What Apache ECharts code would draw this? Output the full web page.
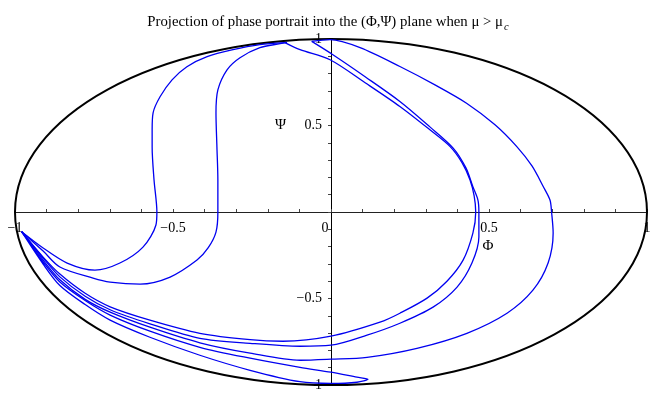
<!DOCTYPE html>
<html>
<head>
<meta charset="utf-8">
<script src="https://cdn.jsdelivr.net/npm/echarts@6/dist/echarts.min.js"></script>
<style>
  html, body { margin: 0; padding: 0; background: #fff; }
  #chart { width: 656px; height: 400px; }
</style>
</head>
<body>
<div id="chart"></div>
<script>
// start point where every trajectory ends up
const S = [-0.979, -0.114];

// trajectories as (Phi, Psi) pairs
const leftLoopInner = [
  [-0.146, 0.979], [-0.225, 0.967], [-0.310, 0.938], [-0.392, 0.898], [-0.456, 0.840],
  [-0.503, 0.764], [-0.541, 0.666], [-0.563, 0.573], [-0.566, 0.475], [-0.566, 0.376],
  [-0.560, 0.185], [-0.551, 0.000], [-0.554, -0.075], [-0.595, -0.203], [-0.668, -0.295],
  [-0.747, -0.336], [-0.835, -0.295], [-0.911, -0.208], S
];
const leftLoopOuter = [
  [-0.139, 0.981], [-0.161, 0.973], [-0.225, 0.950], [-0.288, 0.892], [-0.329, 0.822],
  [-0.358, 0.706], [-0.364, 0.573], [-0.361, 0.376], [-0.358, 0.185], [-0.358, 0.000],
  [-0.364, -0.116], [-0.389, -0.208], [-0.424, -0.278], [-0.509, -0.376], [-0.604, -0.417],
  [-0.699, -0.405], [-0.753, -0.382], [-0.858, -0.318], [-0.911, -0.226], S
];
const innerPathA = [
  [-0.146, 0.979], [-0.098, 0.938], [-0.003, 0.880], [0.108, 0.747], [0.218, 0.610],
  [0.313, 0.475], [0.377, 0.378], [0.415, 0.284], [0.440, 0.185], [0.453, 0.093],
  [0.458, 0.000], [0.449, -0.122], [0.418, -0.278], [0.367, -0.400], [0.304, -0.498],
  [0.218, -0.585], [0.155, -0.637], [0.000, -0.718], [-0.152, -0.747], [-0.256, -0.738],
  [-0.415, -0.701], [-0.573, -0.625], [-0.699, -0.548], [-0.778, -0.470], [-0.858, -0.359],
  [-0.911, -0.261], S
];
const innerPathB = [
  [-0.061, 0.986], [0.006, 0.909], [0.108, 0.782], [0.218, 0.639], [0.313, 0.492],
  [0.386, 0.371], [0.427, 0.255], [0.449, 0.146], [0.465, 0.069], [0.468, 0.000],
  [0.468, -0.145], [0.446, -0.295], [0.399, -0.434], [0.323, -0.550], [0.218, -0.643],
  [0.114, -0.712], [0.000, -0.770], [-0.098, -0.776], [-0.256, -0.759], [-0.415, -0.730],
  [-0.573, -0.646], [-0.699, -0.565], [-0.778, -0.487], [-0.858, -0.375], [-0.911, -0.266], S
];
const outerPath = [
  [-0.061, 0.986], [-0.003, 0.996], [0.092, 0.950], [0.218, 0.841], [0.329, 0.735],
  [0.429, 0.629], [0.519, 0.504], [0.588, 0.378], [0.636, 0.266], [0.672, 0.146],
  [0.693, 0.069], [0.698, 0.000], [0.703, -0.122], [0.687, -0.295], [0.639, -0.452],
  [0.557, -0.585], [0.430, -0.701], [0.272, -0.788], [0.114, -0.840], [0.000, -0.851],
  [-0.098, -0.857], [-0.256, -0.816], [-0.415, -0.756], [-0.573, -0.666], [-0.699, -0.579],
  [-0.778, -0.505], [-0.858, -0.392], [-0.911, -0.278], S
];
const bottomHairpin = [
  S, [-0.911, -0.289], [-0.858, -0.405], [-0.778, -0.512], [-0.699, -0.596], [-0.573, -0.689],
  [-0.415, -0.782], [-0.256, -0.845], [-0.098, -0.898], [0.000, -0.926], [0.082, -0.955],
  [0.117, -0.967], [0.082, -0.984], [0.000, -0.991], [-0.098, -0.981], [-0.256, -0.915],
  [-0.415, -0.828], [-0.573, -0.724], [-0.699, -0.625], [-0.778, -0.535], [-0.858, -0.425],
  [-0.911, -0.301], S
];
const curves = [leftLoopInner, leftLoopOuter, innerPathA, innerPathB, outerPath, bottomHairpin];

const xTickLabels = [-1, -0.5, 0, 0.5, 1];
const yTickLabels = [-1, -0.5, 0.5, 1];

const serif = 'Liberation Serif';
const fmt = v => (v < 0 ? '\u2212' + Math.abs(v) : String(v));

const W = 656, H = 400;
const gridBox = { left: 15, right: 9, top: 39, bottom: 15 };
// axes cross at the origin, which sits in the middle of the grid
const xShift = -(H - gridBox.top - gridBox.bottom) / 2;
const yShift = -(W - gridBox.left - gridBox.right) / 2;

const chart = echarts.init(document.getElementById('chart'));

const option = {
  animation: false,
  title: {
    text: '{t|Projection of phase portrait into the (\u03a6,\u03a8) plane when \u03bc > \u03bc}{s|c}',
    left: 'center',
    top: 6,
    textStyle: {
      fontWeight: 'normal',
      rich: {
        t: { fontFamily: serif, fontSize: 14.8, fontWeight: 'normal', color: '#000' },
        s: { fontFamily: serif, fontSize: 10.5, fontWeight: 'normal', fontStyle: 'italic', color: '#000', padding: [11, 0, 0, 1] }
      }
    }
  },
  grid: Object.assign({ outerBoundsMode: 'none' }, gridBox),
  xAxis: {
    type: 'value',
    position: 'bottom',
    offset: xShift,
    min: -1,
    max: 1,
    interval: 0.5,
    axisLine: { onZero: false, lineStyle: { color: '#222', width: 1 } },
    axisTick: { inside: true, length: 3, lineStyle: { color: '#444' } },
    minorTick: { show: true, splitNumber: 5, length: 3, lineStyle: { color: '#444' } },
    splitLine: { show: false },
    axisLabel: {
      margin: 9,
      color: '#000',
      fontFamily: serif,
      fontSize: 14,
      showMinLabel: true,
      showMaxLabel: true,
      formatter: v => {
        if (!xTickLabels.some(t => Math.abs(t - v) < 1e-9)) return '';
        if (Math.abs(v) < 1e-9) return '{z|0}';
        return fmt(v);
      },
      rich: { z: { fontFamily: serif, fontSize: 14, color: '#000', padding: [0, 12, 0, 0] } }
    }
  },
  yAxis: {
    type: 'value',
    position: 'left',
    offset: yShift,
    min: -1,
    max: 1,
    interval: 0.5,
    axisLine: { show: true, onZero: false, lineStyle: { color: '#000', width: 1 } },
    axisTick: { show: true, length: 3, lineStyle: { color: '#444' } },
    minorTick: { show: true, splitNumber: 5, length: 3, lineStyle: { color: '#444' } },
    splitLine: { show: false },
    axisLabel: {
      margin: 9,
      color: '#000',
      fontFamily: serif,
      fontSize: 14,
      showMinLabel: true,
      showMaxLabel: true,
      formatter: v => (yTickLabels.some(t => Math.abs(t - v) < 1e-9) ? fmt(v) : '')
    }
  },
  series: curves.map(pts => ({
    type: 'line',
    data: pts,
    showSymbol: false,
    symbol: 'none',
    smooth: 0.3,
    clip: false,
    lineStyle: { color: '#0000f0', width: 1.3 },
    z: 3
  }))
};

chart.setOption(option);

// boundary ellipse (unit circle in data space) and the axis names
const c0 = chart.convertToPixel('grid', [0, 0]);
const c1 = chart.convertToPixel('grid', [1, 1]);
const psiPos = chart.convertToPixel('grid', [-0.16, 0.5]);
const phiPos = chart.convertToPixel('grid', [0.497, -0.197]);
chart.setOption({
  graphic: [
    {
      type: 'ellipse',
      shape: { cx: c0[0], cy: c0[1], rx: c1[0] - c0[0], ry: c0[1] - c1[1] },
      style: { fill: 'none', stroke: '#000', lineWidth: 2 },
      z: 2
    },
    {
      type: 'text',
      x: psiPos[0], y: psiPos[1],
      style: { text: '\u03a8', font: '15px "Liberation Serif"', fill: '#000', align: 'center', verticalAlign: 'middle' }
    },
    {
      type: 'text',
      x: phiPos[0], y: phiPos[1],
      style: { text: '\u03a6', font: '15px "Liberation Serif"', fill: '#000', align: 'center', verticalAlign: 'middle' }
    }
  ]
});
</script>
</body>
</html>
